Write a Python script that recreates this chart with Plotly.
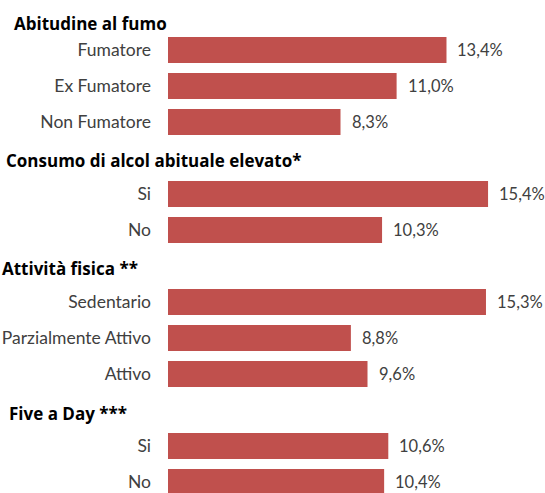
import plotly.graph_objects as go

# Group headings and their rows (row units on the y axis)
group_titles = ["Abitudine al fumo", "Consumo di alcol abituale elevato*",
                "Attività fisica **", "Five a Day ***"]
group_rows = [-0.74, 3.06, 6.06, 10.11]
group_x = [12, 4, 0, 7]  # left offset of each heading from the page edge, px

# Categories, values (%) and their rows
categories = ["Fumatore", "Ex Fumatore", "Non Fumatore",
              "Si", "No",
              "Sedentario", "Parzialmente Attivo", "Attivo",
              "Si", "No"]
values = [13.4, 11.0, 8.3,
          15.4, 10.3,
          15.3, 8.8, 9.6,
          10.6, 10.4]
rows = [0, 1, 2, 4, 5, 7, 8, 9, 11, 12]

BAR_COLOR = "#C0504D"
TEXT_COLOR = "#404040"
FONT = "Lato"
HEAD_FONT = "Open Sans"
LEFT = 168
WIDTH = 545

fig = go.Figure(
    go.Bar(
        x=values,
        y=rows,
        orientation="h",
        width=0.72,
        marker=dict(color=BAR_COLOR, line=dict(width=0)),
        hoverinfo="skip",
    )
)

# Value labels to the right of each bar
for v, r in zip(values, rows):
    fig.add_annotation(
        x=v, y=r, xref="x", yref="y",
        text=f"{v:.1f}%".replace(".", ","),
        showarrow=False, xanchor="left", yanchor="middle",
        xshift=9,
        font=dict(family=FONT, size=16.5, color=TEXT_COLOR),
    )

# Section headings
plot_w = WIDTH - LEFT
for t, r, gx in zip(group_titles, group_rows, group_x):
    fig.add_annotation(
        x=(gx - LEFT) / plot_w, y=r, xref="paper", yref="y",
        text=f"<b>{t}</b>",
        showarrow=False, xanchor="left", yanchor="middle",
        font=dict(family=HEAD_FONT, size=17, color="#000000"),
    )

fig.update_layout(
    width=WIDTH, height=493,
    margin=dict(l=LEFT, r=0, t=0, b=0),
    paper_bgcolor="white", plot_bgcolor="white",
    showlegend=False,
    xaxis=dict(range=[0, 18.14], visible=False, fixedrange=True),
    yaxis=dict(
        range=[12.306, -1.389],
        tickmode="array", tickvals=rows, ticktext=categories,
        showgrid=False, zeroline=False, showline=False,
        ticks="", ticklabelstandoff=16,
        tickfont=dict(family=FONT, size=17.5, color=TEXT_COLOR),
        fixedrange=True,
    ),
)

fig.write_html("out.html")
